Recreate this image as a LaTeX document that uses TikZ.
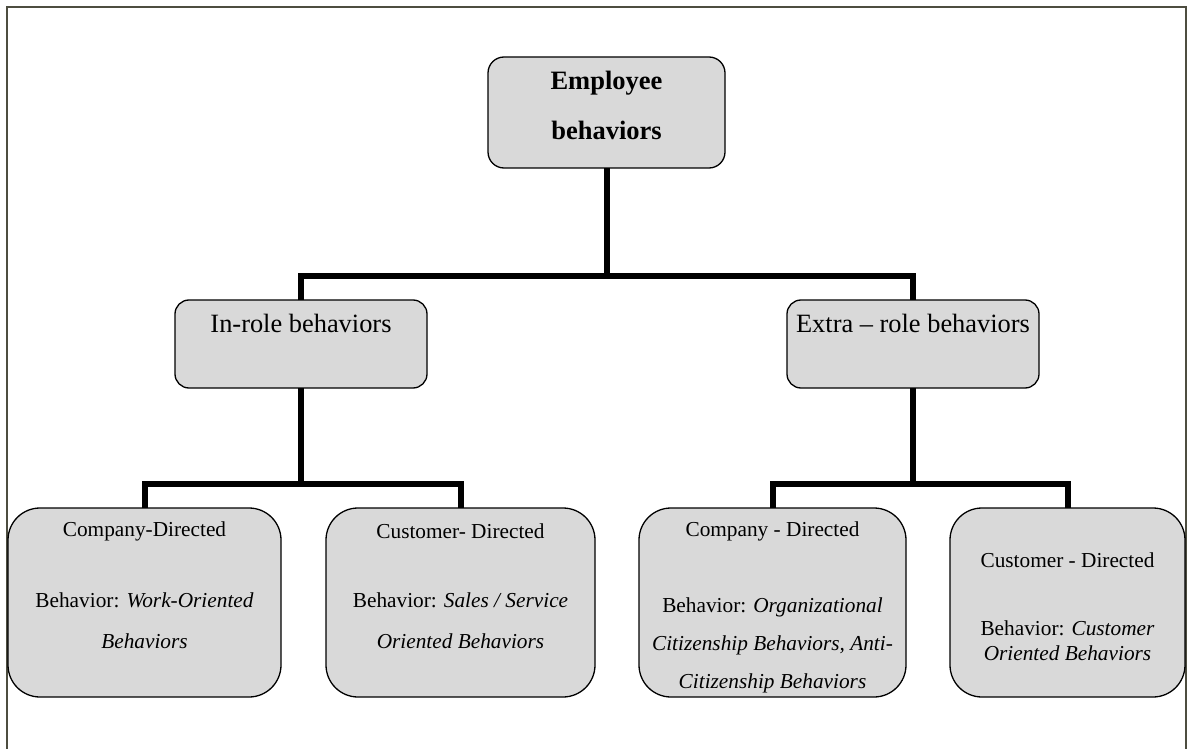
\documentclass[tikz,border=0pt]{standalone}
\usepackage{fontspec}
\setmainfont{Liberation Serif}
\definecolor{boxgray}{HTML}{D9D9D9}
\definecolor{framecol}{HTML}{4D4D40}
\begin{document}
\begin{tikzpicture}[x=1pt,y=-1pt,
  box/.style={draw=black, line width=1.3pt, fill=boxgray, rounded corners=#1,
              inner sep=0pt, outer sep=0pt},
  conn/.style={draw=black, line width=6pt},
  headtext/.style={inner sep=0pt, font=\fontsize{26.5}{30}\selectfont\bfseries},
  midtext/.style={inner sep=0pt, font=\fontsize{26.4}{30}\selectfont},
  leaftext/.style={inner sep=0pt, font=\fontsize{21.3}{25}\selectfont}]
  \useasboundingbox (0,0) rectangle (1187,749);

  % outer frame (open at the bottom)
  \draw[framecol, line width=2pt] (7,749) -- (7,7) -- (1186,7) -- (1186,749);

  % boxes
  \node[box=16pt, minimum width=237pt, minimum height=111pt] (top)    at (606.5,112.5) {};
  \node[box=14pt, minimum width=252pt, minimum height=88pt]  (inrole) at (301,344) {};
  \node[box=14pt, minimum width=252pt, minimum height=88pt]  (extra)  at (913,344) {};
  \node[box=32pt, minimum width=273pt, minimum height=189pt] (b1) at (144.5,602.5) {};
  \node[box=32pt, minimum width=269pt, minimum height=189pt] (b2) at (460.5,602.5) {};
  \node[box=32pt, minimum width=267pt, minimum height=189pt] (b3) at (772.5,602.5) {};
  \node[box=32pt, minimum width=235pt, minimum height=189pt] (b4) at (1067.5,602.5) {};

  % levels of the connector bars
  \coordinate (lvl1) at (0,276);
  \coordinate (lvl2) at (0,484);

  % connectors
  \draw[conn] (top.south) -- (top.south |- lvl1);
  \draw[conn] (inrole.north) |- (top.south |- lvl1) -| (extra.north);
  \draw[conn] (inrole.south) -- (inrole.south |- lvl2);
  \draw[conn] (b1.north) |- (inrole.south |- lvl2) -| (b2.north);
  \draw[conn] (extra.south) -- (extra.south |- lvl2);
  \draw[conn] (b3.north) |- (extra.south |- lvl2) -| (b4.north);

  % texts
  \node[headtext] (ta) at (606.5,83)  {Employee};
  \node[headtext] (tb) at (606.5,130) {behaviors};
  \node[midtext] (ti) at (301,323) {In-role behaviors};
  \node[midtext] (te) at (913,323) {Extra -- role behaviors};

  \node[leaftext] (t1a) at (144.5,531) {Company-Directed};
  \node[leaftext] (t1b) at (144.5,600) {Behavior: \textit{Work-Oriented}};
  \node[leaftext] (t1c) at (144.5,641) {\textit{Behaviors}};

  \node[leaftext] (t2a) at (460.5,531) {Customer- Directed};
  \node[leaftext] (t2b) at (460.5,600) {Behavior: \textit{Sales / Service}};
  \node[leaftext] (t2c) at (460.5,641) {\textit{Oriented Behaviors}};

  \node[leaftext] (t3a) at (772.5,531) {Company - Directed};
  \node[leaftext] (t3b) at (772.5,607) {Behavior: \textit{Organizational}};
  \node[leaftext] (t3c) at (772.5,645) {\textit{Citizenship Behaviors, Anti-}};
  \node[leaftext] (t3d) at (772.5,683) {\textit{Citizenship Behaviors}};

  \node[leaftext] (t4a) at (1067.5,560) {Customer - Directed};
  \node[leaftext] (t4b) at (1067.5,628) {Behavior: \textit{Customer}};
  \node[leaftext] (t4c) at (1067.5,653) {\textit{Oriented Behaviors}};
\end{tikzpicture}
\end{document}
